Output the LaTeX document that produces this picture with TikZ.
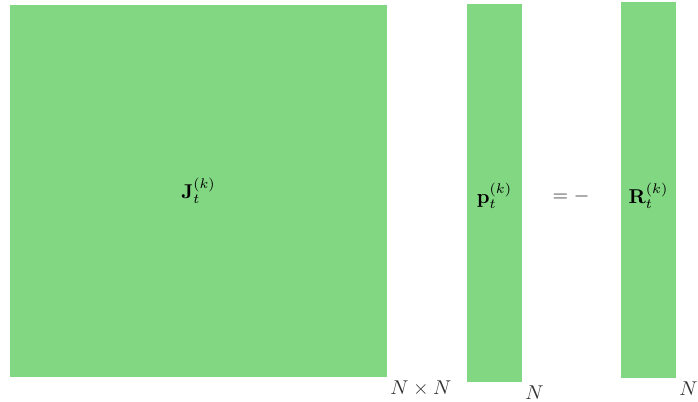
\documentclass[tikz,border=0pt]{standalone}
\usepackage{amsmath,amssymb}
\usepackage{xcolor}
\definecolor{BlockGreen}{HTML}{82D783}
\definecolor{LabelGray}{HTML}{333333}

\begin{document}
\begin{tikzpicture}[
	x=0.5pt, y=-0.5pt, % one unit per reference pixel
	% Style for the green matrix blocks
	block/.style={
		fill=BlockGreen,
		draw=none,
		inner sep=0pt,
		text=black
	},
	% Style for the dimension labels
	dim/.style={
		anchor=north west,
		text=LabelGray,
		inner sep=1.5pt
	}
	]
	
	\useasboundingbox (0,0) rectangle (698,402);
	
	% 1. Matrix blocks
	\path[block] (10,5) rectangle (387,377);
	\node (J) at (198.5,191) {$\mathbf{J}_t^{(k)}$};
	\coordinate (Jse) at (387,377);
	
	\path[block] (467,4) rectangle (522,382);
	\node (p) at (494.5,196) {$\mathbf{p}_t^{(k)}$};
	\coordinate (pse) at (522,382);
	
	\path[block] (621,2) rectangle (676,378);
	\node (R) at (648.5,196) {$\mathbf{R}_t^{(k)}$};
	\coordinate (Rse) at (676,378);
	
	% 2. Equation sign
	\node[text=LabelGray] (eq) at (571,196) {$= -$};
	
	% 3. Dimension labels
	\node[dim] (JN) at (Jse) {$N \times N$};
	\node[dim] (pN) at (pse) {$N$};
	\node[dim] (RN) at (Rse) {$N$};
	
\end{tikzpicture}
\end{document}
